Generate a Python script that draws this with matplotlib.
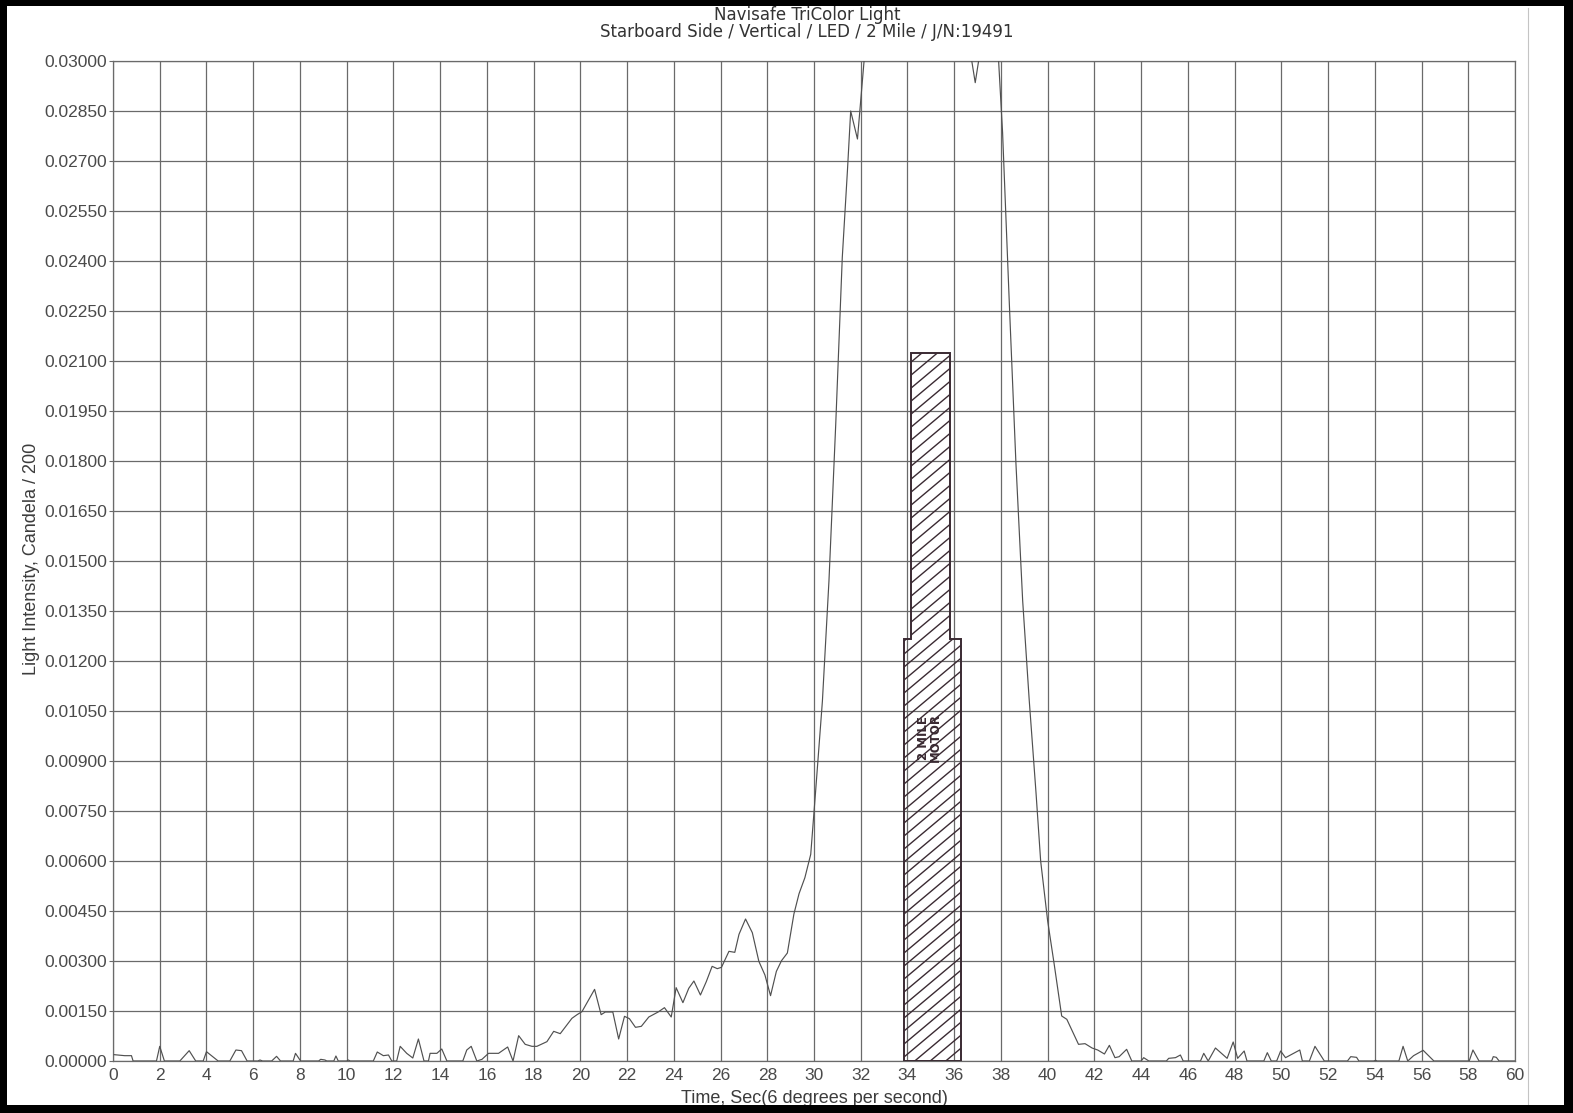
import numpy as np
import matplotlib
matplotlib.use("Agg")
import matplotlib.pyplot as plt
from matplotlib.patches import Polygon, Rectangle
from matplotlib.lines import Line2D

# ---------------- data ----------------
time_s = [0.05, 0.5, 0.79, 0.86, 1.86, 2.0, 2.2, 2.86, 3.26, 3.54, 3.86, 4.0, 4.5, 5.0, 5.26, 5.5, 5.74,
          6.2, 6.29, 6.4, 6.79, 7.0, 7.17, 7.71, 7.81, 8.03, 8.8, 8.89, 9.07, 9.15, 9.45, 9.54, 9.64,
          10.0, 10.07, 10.15, 11.14, 11.31, 11.57, 11.79, 11.93, 12.14, 12.29, 12.57, 12.83, 13.07, 13.31,
          13.5, 13.57, 13.86, 14.07, 14.29, 14.97, 15.14, 15.33, 15.57, 15.79, 16.07, 16.5, 16.89, 17.12,
          17.36, 17.64, 17.93, 18.14, 18.57, 18.86, 19.14, 19.64, 19.86, 20.07, 20.61, 20.89, 21.07, 21.39,
          21.64, 21.89, 22.1, 22.36, 22.61, 22.93, 23.33, 23.6, 23.89, 24.1, 24.39, 24.64, 24.86, 25.14,
          25.39, 25.64, 25.86, 26.04, 26.36, 26.61, 26.79, 27.07, 27.36, 27.64, 27.9, 28.14, 28.39, 28.61,
          28.86, 29.14, 29.36, 29.61, 29.86, 30.07, 30.36, 30.64, 30.93, 31.21, 31.43, 31.57, 31.86, 32.36,
          33.0, 34.0, 35.0, 36.0, 36.57, 36.9, 37.2, 37.64, 38.07, 38.36, 38.64, 38.93, 39.21, 39.5, 39.7,
          40.0, 40.28, 40.6, 40.82, 41.32, 41.6, 41.9, 42.14, 42.43, 42.64, 42.88, 43.06, 43.38, 43.6,
          44.0, 44.11, 44.33, 45.08, 45.18, 45.47, 45.68, 45.8, 46.54, 46.68, 46.87, 47.18, 47.68, 47.94,
          48.13, 48.41, 48.53, 49.25, 49.4, 49.57, 49.8, 49.97, 50.18, 50.79, 50.9, 51.2, 51.44, 51.84,
          52.83, 52.97, 53.22, 53.32, 53.95, 54.04, 54.1, 55.03, 55.21, 55.41, 55.66, 56.07, 56.53,
          58.04, 58.2, 58.46, 59.0, 59.07, 59.2, 59.32, 60.0]
intensity = [0.00019, 0.00016, 0.00016, 0.0, 0.0, 0.00044, 0.0, 0.0, 0.00031, 0.0, 0.0, 0.00028, 0.0, 0.0,
             0.00033, 0.00031, 0.0, 0.0, 0.00003, 0.0, 0.0, 0.00014, 0.0, 0.0, 0.00023, 0.0, 0.0, 0.00005,
             0.00003, 0.0, 0.0, 0.00015, 0.0, 0.0, 0.00003, 0.0, 0.0, 0.00027, 0.00016, 0.00018, 0.0, 0.0,
             0.00044, 0.00023, 0.00009, 0.00066, 0.0, 0.0, 0.00023, 0.00023, 0.00036, 0.0, 0.0, 0.00033,
             0.00044, 0.0, 0.00005, 0.00023, 0.00023, 0.00042, 0.0, 0.00076, 0.0005, 0.00044, 0.00044,
             0.00058, 0.00089, 0.00082, 0.00128, 0.00139, 0.00148, 0.00215, 0.00139, 0.00147, 0.00147,
             0.00066, 0.00134, 0.00127, 0.00101, 0.00104, 0.00132, 0.00147, 0.0016, 0.00132, 0.0022,
             0.00175, 0.00218, 0.0024, 0.00198, 0.00238, 0.00284, 0.00277, 0.00281, 0.00329, 0.00326,
             0.0038, 0.00426, 0.00385, 0.00299, 0.00258, 0.00196, 0.00269, 0.00301, 0.00324, 0.00441,
             0.00502, 0.0055, 0.0062, 0.0081, 0.0108, 0.0144, 0.0191, 0.0241, 0.0267, 0.0285, 0.02766,
             0.0318, 0.0345, 0.0365, 0.036, 0.0335, 0.0308, 0.02935, 0.0307, 0.0333, 0.02786, 0.02271,
             0.01796, 0.01381, 0.01083, 0.00806, 0.0060, 0.0042, 0.0029, 0.00135, 0.00125, 0.0005, 0.00052,
             0.00039, 0.00033, 0.00021, 0.00047, 0.0001, 0.00013, 0.00035, 0.0, 0.0, 0.0001, 0.0, 0.0,
             0.00008, 0.0001, 0.00018, 0.0, 0.0, 0.00023, 0.0, 0.00039, 0.00008, 0.00057, 0.00008, 0.0003,
             0.0, 0.0, 0.00025, 0.0, 0.0, 0.0003, 0.0001, 0.00033, 0.0, 0.0, 0.00044, 0.0, 0.0, 0.00013,
             0.00011, 0.0, 0.0, 0.00002, 0.0, 0.0, 0.00044, 0.0, 0.00016, 0.00032, 0.0, 0.0, 0.00033, 0.0,
             0.0, 0.00013, 0.00011, 0.0, 0.0]

# stepped requirement box (2 mile / motor)
box_x = [33.85, 33.85, 34.15, 34.15, 35.8, 35.8, 36.3, 36.3]
box_y = [0.0, 0.01265, 0.01265, 0.02123, 0.02123, 0.01265, 0.01265, 0.0]

x_major = list(range(0, 61, 2))
y_ticks = [round(0.0015 * i, 5) for i in range(21)]

title1 = "Navisafe TriColor Light"
title2 = "Starboard Side / Vertical / LED / 2 Mile / J/N:19491"
xlabel = "Time, Sec(6 degrees per second)"
ylabel = "Light Intensity, Candela / 200"

# ---------------- figure ----------------
W, H = 1573, 1113
fig = plt.figure(figsize=(W / 100, H / 100), dpi=100)
fig.patch.set_facecolor("white")
ax = fig.add_axes([113 / W, 1 - 1061 / H, (1515 - 113) / W, (1061 - 61) / H])
ax.set_xlim(0, 60)
ax.set_ylim(0, 0.03)

grid_c = "#6a6a6a"
ax.set_xticks(x_major)
ax.set_yticks(y_ticks)
ax.set_yticklabels([f"{v:.5f}" for v in y_ticks])
ax.grid(True, which="major", color=grid_c, lw=0.9, zorder=1)
for s in ax.spines.values():
    s.set_color(grid_c)
    s.set_linewidth(0.9)

lab_font = ["Liberation Sans", "DejaVu Sans"]
ax.tick_params(axis="y", which="both", direction="out", length=3, color=grid_c,
               labelsize=12.5, labelcolor="#4a4a4a", pad=1)
ax.tick_params(axis="x", which="both", length=0, labelsize=12.5, labelcolor="#4a4a4a", pad=5)
for t in ax.get_xticklabels() + ax.get_yticklabels():
    t.set_family(lab_font)

# curve
ax.plot(time_s, intensity, color="#505050", lw=0.85, zorder=3)

# hatched box
edge_c = "#3a2a32"
poly = Polygon(list(zip(box_x, box_y)), closed=True, facecolor="none",
               edgecolor=edge_c, lw=1.4, zorder=4)
ax.add_patch(poly)
clip = Polygon(list(zip(box_x, box_y)), closed=True, facecolor="none", edgecolor="none")
ax.add_patch(clip)
# hatch lines, angle ~40 deg in display space, 13 px vertical spacing
px_per_x = ((1515 - 113) / 60.0)
px_per_y = 1000 / 0.03
slope = np.tan(np.radians(40)) * px_per_x / px_per_y
spacing = 13 / px_per_y
x0, x1 = min(box_x), max(box_x)
for c in np.arange(-slope * (x1 - x0), max(box_y) + spacing, spacing):
    ln = Line2D([x0, x1], [c, c + slope * (x1 - x0)], color=edge_c, lw=1.0, zorder=4)
    ax.add_line(ln)
    ln.set_clip_path(clip)

ax.text(34.95, 0.0097, "2 MILE\nMOTOR", rotation=90, ha="center", va="center",
        fontsize=8.5, fontweight="bold", color="#3a2a32", linespacing=0.85,
        family=["Liberation Sans Narrow", "DejaVu Sans"], zorder=5)

# labels
ax.set_xlabel(xlabel, fontsize=13, color="#3c3c3c", family=lab_font)
ax.xaxis.set_label_coords(0.5, -0.029)
ax.set_ylabel(ylabel, fontsize=13, color="#3c3c3c", family=lab_font)
ax.yaxis.set_label_coords(-0.052, 0.502)

title_font = ["Liberation Sans Narrow", "DejaVu Sans"]
fig.text(807 / W, 1 - 15 / H, title1, ha="center", va="center", fontsize=12,
         color="#333333", family=title_font)
fig.text(807 / W, 1 - 32 / H, title2, ha="center", va="center", fontsize=12,
         color="#333333", family=title_font)

# scan frame
for (bx, by, bw, bh) in [(0, 0, 7, H), (0, 0, W, 6), (W - 9, 0, 9, H), (0, H - 8, W, 8)]:
    fig.patches.append(Rectangle((bx / W, 1 - (by + bh) / H), bw / W, bh / H,
                                 transform=fig.transFigure, facecolor="black",
                                 edgecolor="none", zorder=10))
fig.lines.append(Line2D([1528 / W, 1528 / W], [8 / H, 1 - 8 / H], transform=fig.transFigure,
                        color="#c4c4c4", lw=0.8))

fig.savefig("out.png", dpi=100)
